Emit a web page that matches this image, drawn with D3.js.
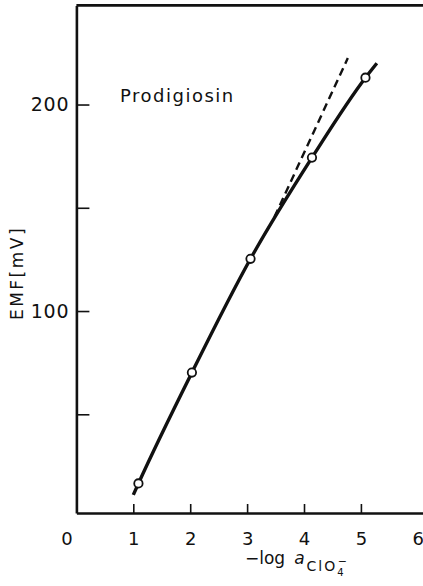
<!DOCTYPE html>
<html>
<head>
<meta charset="utf-8">
<script src="https://cdn.jsdelivr.net/npm/d3@7"></script>
<style>
    body { margin: 0; background: #fff; }
    svg { display: block; }
    text { font-family: "DejaVu Sans", sans-serif; fill: #111; }
</style>
</head>
<body>
<svg id="chart" width="423" height="586"></svg>
<script>
// values
let xTicks = [0, 1, 2, 3, 4, 5, 6]
let yTicks = [50, 100, 150, 200]
let yLabelled = [100, 200]

// measured points (open circles)
let logA = [1.09, 2.03, 3.06, 4.14, 5.08]
let emf = [16.5, 70.2, 125.3, 174.3, 213.0]

// drawn curve, ends included
let curveX = [1.0, 1.09, 2.03, 3.06, 4.14, 5.08, 5.28]
let curveY = [11, 16.5, 70.2, 125.3, 174.3, 213.0, 220]

// dashed Nernstian extension
let dashX = [3.48, 4.77]
let dashY = [145.5, 222.5]

function plotChart() {
    let svg = d3.select('#chart')

    let x = d3.scaleLinear().domain([0, 6.1]).range([76.4, 423.5])
    let y = d3.scaleLinear().domain([2.2, 248]).range([513, 5.4])

    //frame: top edge
    svg.append('line')
        .attr('x1', x(0)).attr('x2', x(6.1))
        .attr('y1', y(248)).attr('y2', y(248))
        .style('stroke', '#111').style('stroke-width', 2.6)

    //y axis
    let yAxis = d3.axisLeft(y)
        .tickValues(yTicks)
        .tickSizeInner(-13)
        .tickSizeOuter(0)
        .tickPadding(7)
        .tickFormat(function (d) {
            return yLabelled.includes(d) ? d : ''
        })
    let gy = svg.append('g')
        .attr('transform', `translate(${x(0)},0)`)
        .call(yAxis)
    gy.select('.domain').style('stroke', '#111').style('stroke-width', 2.6)
    gy.selectAll('.tick line').style('stroke', '#111').style('stroke-width', 1.6)
    gy.selectAll('.tick text')
        .style('font-size', '19px')
        .style('font-family', '"DejaVu Sans", sans-serif')
        .style('letter-spacing', '0.8px')
        .style('fill', '#111')

    //x axis
    let xAxis = d3.axisBottom(x)
        .tickValues(xTicks)
        .tickSizeInner(-9)
        .tickSizeOuter(0)
        .tickPadding(19)
        .tickFormat(d3.format('d'))
    let gx = svg.append('g')
        .attr('transform', `translate(0,${y(2.2)})`)
        .call(xAxis)
    gx.select('.domain').style('stroke', '#111').style('stroke-width', 2.6)
    gx.selectAll('.tick line')
        .style('stroke', '#111').style('stroke-width', 1.6)
        .style('opacity', function (d) { return (d === 0 || d === 6) ? 0 : 1 })
    gx.selectAll('.tick text')
        .attr('dx', function (d) { return d === 0 ? -10 : 0 })
        .style('font-size', '18px')
        .style('font-family', '"DejaVu Sans", sans-serif')
        .style('fill', '#111')

    //axis titles
    svg.append('text')
        .attr('transform', `translate(23,${273}) rotate(-90)`)
        .attr('text-anchor', 'middle')
        .style('font-size', '17px')
        .style('letter-spacing', '2.5px')
        .text('EMF[mV]')

    let xt = svg.append('text')
        .attr('x', 245)
        .attr('y', 564)
        .style('font-size', '17px')
    xt.append('tspan').text('−log')
    xt.append('tspan').attr('dx', 9).style('font-style', 'italic').text('a')
    xt.append('tspan')
        .attr('dx', 2)
        .attr('dy', 7)
        .style('font-size', '14px')
        .style('letter-spacing', '2px')
        .text('ClO')
    xt.append('tspan')
        .attr('dy', 5)
        .style('font-size', '10px')
        .text('4')
    xt.append('tspan')
        .attr('dx', -6)
        .attr('dy', -11)
        .style('font-size', '11px')
        .text('−')

    svg.append('text')
        .attr('x', 120)
        .attr('y', 102)
        .style('font-size', '18px')
        .style('letter-spacing', '1.5px')
        .text('Prodigiosin')

    //dashed extension
    let dashData = dashX.map(function (d, i) { return [d, dashY[i]] })
    svg.append('path')
        .datum(dashData)
        .attr('d', d3.line()
            .x(function (d) { return x(d[0]) })
            .y(function (d) { return y(d[1]) }))
        .style('fill', 'none')
        .style('stroke', '#111')
        .style('stroke-width', 2.4)
        .style('stroke-dasharray', '8,5')

    //solid curve
    let curveData = curveX.map(function (d, i) { return [d, curveY[i]] })
    svg.append('path')
        .datum(curveData)
        .attr('d', d3.line()
            .curve(d3.curveMonotoneX)
            .x(function (d) { return x(d[0]) })
            .y(function (d) { return y(d[1]) }))
        .style('fill', 'none')
        .style('stroke', '#111')
        .style('stroke-width', 3.4)

    //points
    svg.append('g')
        .selectAll('circle')
        .data(logA)
        .enter()
        .append('circle')
        .attr('cx', function (d) { return x(d) })
        .attr('cy', function (d, i) { return y(emf[i]) })
        .attr('r', 4.2)
        .style('fill', '#fff')
        .style('stroke', '#111')
        .style('stroke-width', 1.8)
}

plotChart()
</script>
</body>
</html>
